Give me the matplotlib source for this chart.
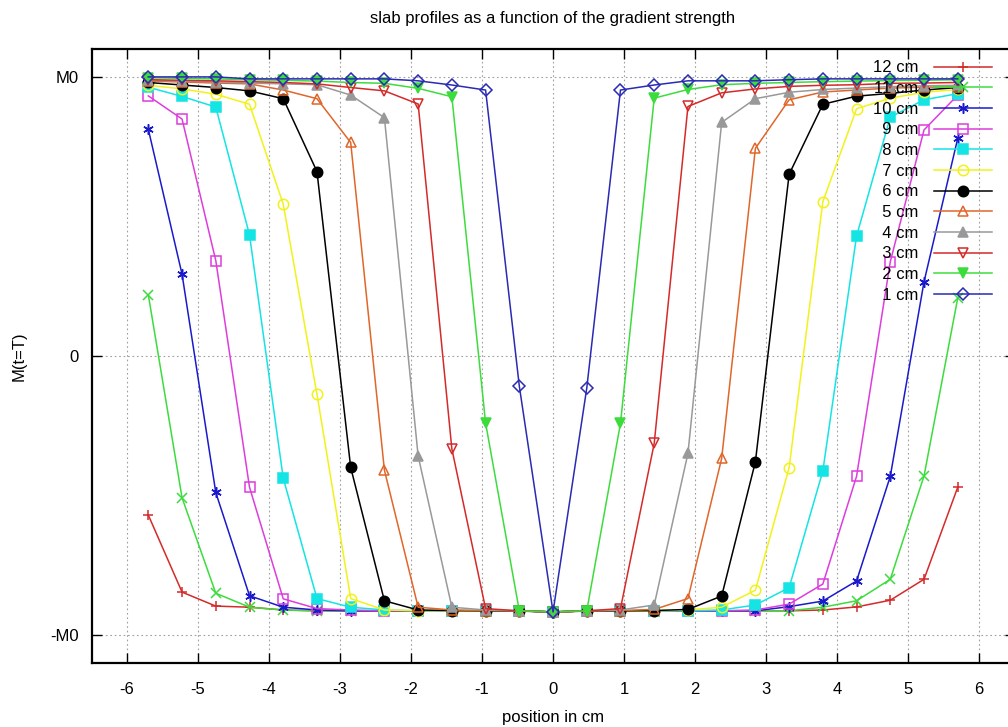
import matplotlib
matplotlib.use("Agg")
import matplotlib.pyplot as plt

plt.rcParams['font.family'] = ['Liberation Sans', 'DejaVu Sans']
plt.rcParams['axes.unicode_minus'] = False

# sample positions in cm (25 points, 0.475 cm apart)
position = [-5.7, -5.225, -4.75, -4.275, -3.8, -3.325, -2.85, -2.375, -1.9, -1.425, -0.95, -0.475, 0.0,
            0.475, 0.95, 1.425, 1.9, 2.375, 2.85, 3.325, 3.8, 4.275, 4.75, 5.225, 5.7]

m_12cm = [-0.57, -0.846, -0.896, -0.90, -0.91, -0.913, -0.913, -0.913, -0.913, -0.913, -0.913, -0.913, -0.917,
          -0.913, -0.913, -0.913, -0.913, -0.913, -0.913, -0.913, -0.91, -0.899, -0.875, -0.80, -0.47]
m_11cm = [0.219, -0.508, -0.85, -0.90, -0.91, -0.913, -0.913, -0.913, -0.913, -0.913, -0.913, -0.913, -0.917,
          -0.913, -0.913, -0.913, -0.913, -0.913, -0.913, -0.913, -0.90, -0.877, -0.80, -0.43, 0.208]
m_10cm = [0.812, 0.293, -0.489, -0.859, -0.90, -0.91, -0.913, -0.913, -0.913, -0.913, -0.913, -0.913, -0.917,
          -0.913, -0.913, -0.913, -0.913, -0.913, -0.913, -0.898, -0.878, -0.806, -0.431, 0.266, 0.78]
m_9cm = [0.932, 0.849, 0.342, -0.47, -0.87, -0.905, -0.91, -0.913, -0.913, -0.913, -0.913, -0.913, -0.917,
         -0.913, -0.913, -0.913, -0.913, -0.913, -0.91, -0.889, -0.817, -0.431, 0.338, 0.81, 0.935]
m_8cm = [0.963, 0.93, 0.892, 0.434, -0.438, -0.869, -0.90, -0.91, -0.913, -0.913, -0.913, -0.913, -0.917,
         -0.913, -0.913, -0.913, -0.913, -0.91, -0.892, -0.83, -0.412, 0.43, 0.856, 0.918, 0.94]
m_7cm = [0.97, 0.957, 0.938, 0.902, 0.544, -0.137, -0.869, -0.91, -0.912, -0.913, -0.913, -0.913, -0.917,
         -0.913, -0.913, -0.913, -0.91, -0.90, -0.839, -0.40, 0.553, 0.886, 0.924, 0.945, 0.955]
m_6cm = [0.98, 0.971, 0.962, 0.95, 0.922, 0.661, -0.399, -0.877, -0.91, -0.912, -0.913, -0.914, -0.917,
         -0.914, -0.913, -0.912, -0.908, -0.86, -0.379, 0.651, 0.902, 0.931, 0.941, 0.953, 0.962]
m_5cm = [0.985, 0.982, 0.978, 0.975, 0.953, 0.922, 0.765, -0.409, -0.90, -0.91, -0.912, -0.913, -0.917,
         -0.913, -0.912, -0.908, -0.869, -0.367, 0.744, 0.918, 0.946, 0.953, 0.96, 0.963, 0.965]
m_4cm = [0.988, 0.985, 0.982, 0.978, 0.975, 0.972, 0.935, 0.854, -0.358, -0.90, -0.91, -0.913, -0.917,
         -0.913, -0.91, -0.892, -0.349, 0.837, 0.922, 0.945, 0.955, 0.96, 0.965, 0.968, 0.97]
m_3cm = [0.99, 0.988, 0.986, 0.983, 0.98, 0.975, 0.962, 0.95, 0.903, -0.333, -0.905, -0.913, -0.917,
         -0.913, -0.905, -0.313, 0.894, 0.943, 0.957, 0.966, 0.97, 0.972, 0.977, 0.978, 0.98]
m_2cm = [0.997, 0.995, 0.993, 0.99, 0.988, 0.985, 0.98, 0.977, 0.959, 0.929, -0.24, -0.913, -0.917,
         -0.913, -0.241, 0.924, 0.955, 0.972, 0.977, 0.98, 0.983, 0.985, 0.987, 0.988, 0.99]
m_1cm = [1.0, 1.0, 1.0, 0.993, 0.993, 0.993, 0.993, 0.993, 0.986, 0.971, 0.953, -0.108, -0.917,
         -0.115, 0.953, 0.971, 0.986, 0.986, 0.986, 0.99, 0.993, 0.993, 0.993, 0.993, 0.993]

labels = ['12 cm', '11 cm', '10 cm', '9 cm', '8 cm', '7 cm', '6 cm', '5 cm', '4 cm', '3 cm', '2 cm', '1 cm']
series = [m_12cm, m_11cm, m_10cm, m_9cm, m_8cm, m_7cm, m_6cm, m_5cm, m_4cm, m_3cm, m_2cm, m_1cm]

# gnuplot-like point styles: (color, marker, filled)
styles = [
    ('#d42a2a', '+', True),
    ('#3ddc3d', 'x', True),
    ('#1a1acc', (6, 2, 0), True),
    ('#dd3ddd', 's', False),
    ('#14e4e4', 's', True),
    ('#f2f21a', 'o', False),
    ('#000000', 'o', True),
    ('#e0662a', '^', False),
    ('#999999', '^', True),
    ('#d42a2a', 'v', False),
    ('#3ddc3d', 'v', True),
    ('#2a2ab4', 'D', False),
]

fig = plt.figure(figsize=(10.08, 7.27), dpi=100)
ax = fig.add_axes([0.0908, 0.0880, 0.9157, 0.8446])

for vals, lab, (col, mk, filled) in zip(series, labels, styles):
    # right-align the legend labels like gnuplot (figure space pads single digits)
    shown = lab if len(lab) == 5 else '\u2007' + lab
    ms = 6.5 if mk == 'D' else 7.5
    ax.plot(position, vals, color=col, lw=1.1, marker=mk, ms=ms, mew=1.1,
            mfc=col if filled else 'none', mec=col, label=shown)

ax.set_xlim(-6.5, 6.5)
ax.set_ylim(-1.1, 1.1)
ax.set_xticks(range(-6, 7))
ax.set_yticks([-1, 0, 1])
ax.set_yticklabels(['-M0', '0', 'M0'])
ax.tick_params(direction='in', length=7, width=1, top=True, right=True, labelsize=12, pad=9)
ax.tick_params(axis='x', pad=14)
for s in ax.spines.values():
    s.set_linewidth(1.6)
ax.grid(True, color='#a0a0a0', linestyle=(0, (1.5, 2.5)), linewidth=0.8)

ax.set_title('slab profiles as a function of the gradient strength', fontsize=12, pad=19)
ax.set_xlabel('position in cm', fontsize=12, labelpad=9)
ax.set_ylabel('M(t=T)', fontsize=12, labelpad=17)

leg = ax.legend(loc='upper right', bbox_to_anchor=(0.984, 0.917), bbox_transform=fig.transFigure,
                frameon=False, markerfirst=False, fontsize=12, handlelength=3.5,
                handletextpad=0.9, labelspacing=0.34, borderpad=0, borderaxespad=0)

fig.savefig('out.png', dpi=100)
